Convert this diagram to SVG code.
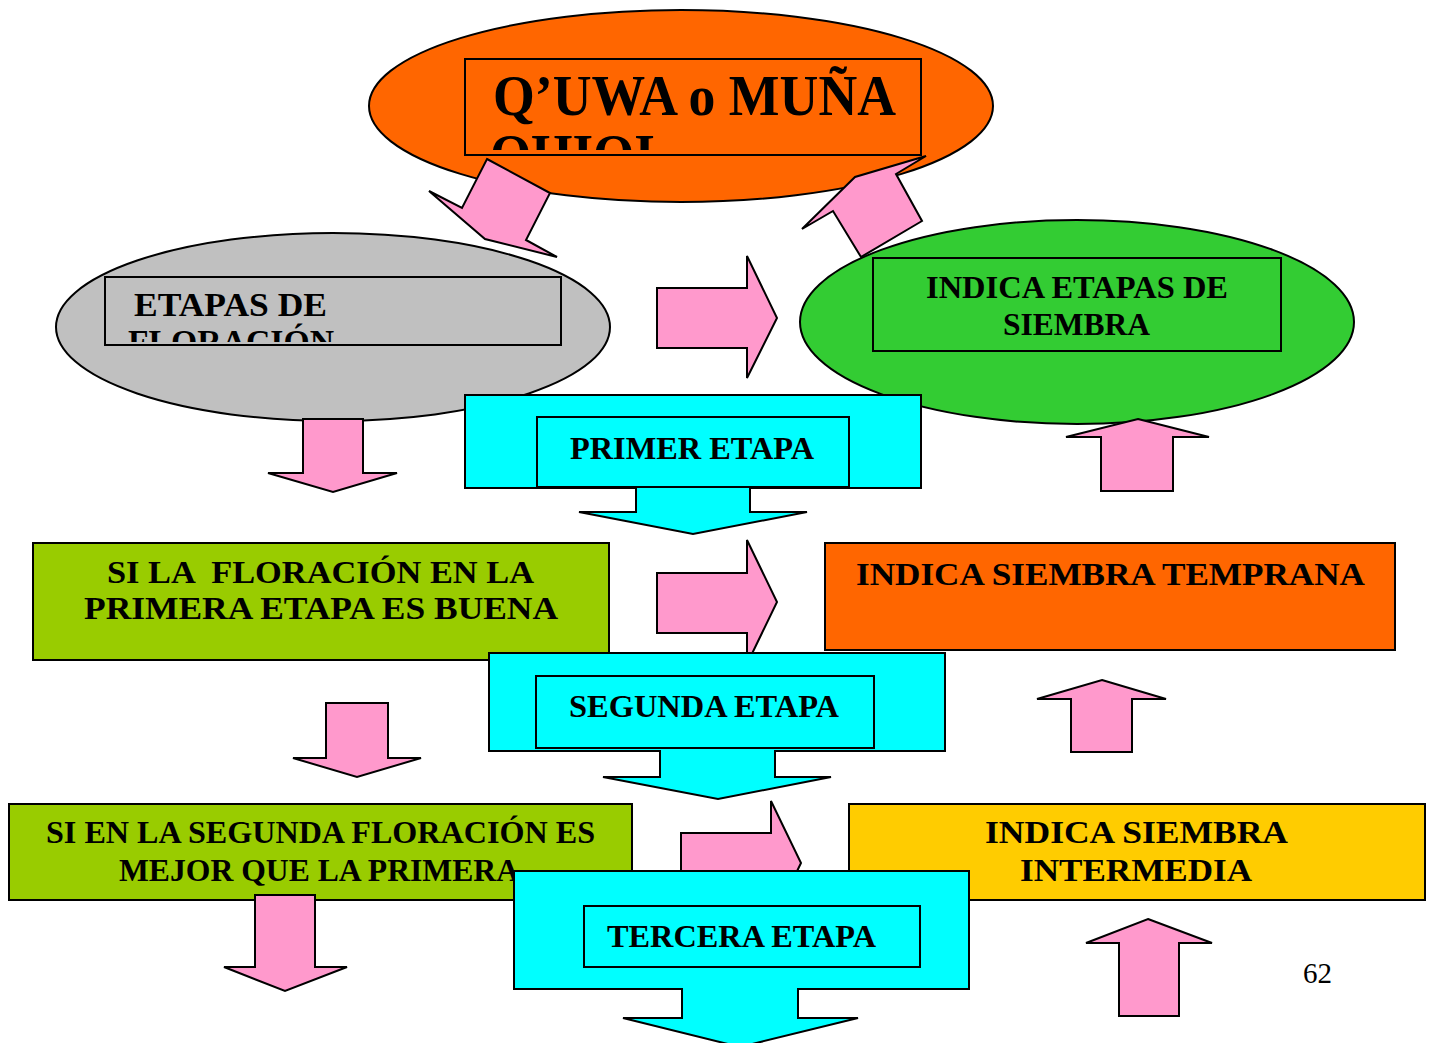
<svg xmlns="http://www.w3.org/2000/svg" width="1431" height="1043" viewBox="0 0 1431 1043">
  <style>
    .ln { stroke: #000; stroke-width: 2; stroke-linejoin: miter; }
    .pink { fill: #FF99CC; }
    .cyan { fill: #00FFFF; }
    .frame { fill: none; stroke: #000; stroke-width: 2; }
    .t { font-family: "Liberation Serif", "Times New Roman", serif; font-weight: bold; fill: #000; font-size: 32px; }
    .title { font-size: 57px; }
    .sub { font-size: 33px; }
    .pg { font-family: "Liberation Serif", "Times New Roman", serif; font-size: 29px; fill: #000; }
  </style>
  <defs>
    <clipPath id="clipTitle"><rect x="466" y="60" width="454" height="90"/></clipPath>
    <clipPath id="clipFlor"><rect x="106" y="278" width="455" height="64"/></clipPath>
  </defs>
  <rect width="1431" height="1043" fill="#fff"/>

  <!-- top ellipse -->
  <g id="node-quwa">
    <ellipse class="ln" cx="681" cy="106" rx="312" ry="96" fill="#FF6600"/>
    <rect class="frame" x="465" y="59" width="456" height="96"/>
    <g clip-path="url(#clipTitle)">
      <text class="t title" x="493" y="115" textLength="403" lengthAdjust="spacingAndGlyphs">Q’UWA o MUÑA</text>
      <text class="t title" x="490" y="174" textLength="165" lengthAdjust="spacingAndGlyphs">QHIQI</text>
    </g>
  </g>

  <!-- flowering stages ellipse -->
  <g id="node-floracion">
    <ellipse class="ln" cx="333" cy="327" rx="277" ry="94" fill="#C0C0C0"/>
    <rect class="frame" x="105" y="277" width="456" height="68"/>
    <g clip-path="url(#clipFlor)">
      <text class="t sub" x="134" y="316" textLength="193" lengthAdjust="spacingAndGlyphs">ETAPAS DE</text>
      <text class="t sub" x="128" y="353" textLength="206" lengthAdjust="spacingAndGlyphs">FLORACIÓN</text>
    </g>
  </g>

  <!-- sowing stages ellipse -->
  <g id="node-siembra">
    <ellipse class="ln" cx="1077" cy="322" rx="277" ry="102" fill="#33CC33"/>
    <rect class="frame" x="873" y="258" width="408" height="93"/>
    <text class="t" x="926" y="298" textLength="302" lengthAdjust="spacingAndGlyphs">INDICA ETAPAS DE</text>
    <text class="t" x="1003" y="335" textLength="147" lengthAdjust="spacingAndGlyphs">SIEMBRA</text>
  </g>

  <!-- stage result boxes -->
  <g id="node-buena">
    <rect class="ln" x="33" y="543" width="576" height="117" fill="#99CC00"/>
    <text class="t" x="107" y="583" textLength="427" lengthAdjust="spacingAndGlyphs" xml:space="preserve">SI LA  FLORACIÓN EN LA</text>
    <text class="t" x="84" y="619" textLength="474" lengthAdjust="spacingAndGlyphs">PRIMERA ETAPA ES BUENA</text>
  </g>
  <g id="node-temprana">
    <rect class="ln" x="825" y="543" width="570" height="107" fill="#FF6600"/>
    <text class="t" x="856" y="585" textLength="509" lengthAdjust="spacingAndGlyphs">INDICA SIEMBRA TEMPRANA</text>
  </g>
  <g id="node-mejor">
    <rect class="ln" x="9" y="804" width="623" height="96" fill="#99CC00"/>
    <text class="t" x="46" y="843" textLength="549" lengthAdjust="spacingAndGlyphs">SI EN LA SEGUNDA FLORACIÓN ES</text>
    <text class="t" x="119" y="881" textLength="400" lengthAdjust="spacingAndGlyphs">MEJOR QUE LA PRIMERA</text>
  </g>
  <g id="node-intermedia">
    <rect class="ln" x="849" y="804" width="576" height="96" fill="#FFCC00"/>
    <text class="t" x="985" y="843" textLength="303" lengthAdjust="spacingAndGlyphs">INDICA SIEMBRA</text>
    <text class="t" x="1020" y="881" textLength="232" lengthAdjust="spacingAndGlyphs">INTERMEDIA</text>
  </g>

  <!-- block arrows -->
  <g id="connectors">
    <path class="ln pink" d="M487,159 L550,193 L526,240 L557,257 L485,239 L429,191 L462,208 Z"/>
    <path class="ln pink" d="M926,156 L896,174 L922,221 L861,257 L833,211 L802,229 L855,177 Z"/>
    <path class="ln pink" d="M657,288 H747 V256 L777,318 L747,378 V348 H657 Z"/>
    <path class="ln pink" d="M303,419 H363 V473 H397 L333,492 L268,473 H303 Z"/>
    <path class="ln pink" d="M1138,419 L1209,437 H1173 V491 H1101 V437 H1066 Z"/>
    <path class="ln pink" d="M657,573 H747 V540 L777,602 L747,664 V633 H657 Z"/>
    <path class="ln pink" d="M326,703 H388 V758 H421 L357,777 L293,758 H326 Z"/>
    <path class="ln pink" d="M1102,680 L1166,699 H1132 V752 H1071 V699 H1037 Z"/>
    <path class="ln pink" d="M681,833 H771 V801 L801,863 L771,925 V893 H681 Z"/>
    <path class="ln pink" d="M255,895 H315 V967 H347 L285,991 L224,967 H255 Z"/>
    <path class="ln pink" d="M1148,919 L1212,943 H1179 V1016 H1119 V943 H1086 Z"/>
  </g>

  <!-- stage callouts -->
  <g id="node-primer">
    <path class="ln cyan" d="M465,395 H921 V488 H750 V512 H807 L693,534 L579,512 H636 V488 H465 Z"/>
    <rect class="frame" x="537" y="417" width="312" height="70"/>
    <text class="t" x="570" y="459" textLength="244" lengthAdjust="spacingAndGlyphs">PRIMER ETAPA</text>
  </g>
  <g id="node-segunda">
    <path class="ln cyan" d="M489,653 H945 V751 H775 V777 H831 L718,799 L603,777 H660 V751 H489 Z"/>
    <rect class="frame" x="536" y="676" width="338" height="72"/>
    <text class="t" x="569" y="717" textLength="270" lengthAdjust="spacingAndGlyphs">SEGUNDA ETAPA</text>
  </g>
  <g id="node-tercera">
    <path class="ln cyan" d="M514,871 H969 V989 H798 V1018 H858 L740,1047 L623,1018 H682 V989 H514 Z"/>
    <rect class="frame" x="584" y="906" width="336" height="61"/>
    <text class="t" x="607" y="947" textLength="269" lengthAdjust="spacingAndGlyphs">TERCERA ETAPA</text>
  </g>

  <text class="pg" x="1303" y="983">62</text>
</svg>
